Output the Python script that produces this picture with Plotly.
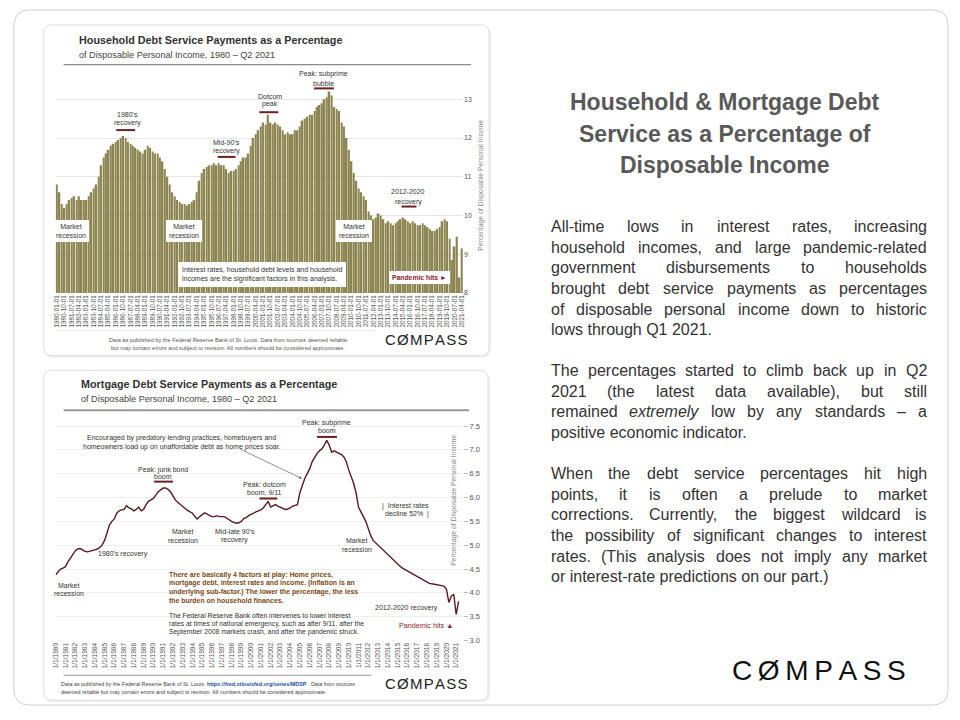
import plotly.graph_objects as go

# ---------------- DATA ----------------
# Household debt service payments, % of disposable personal income (quarterly, 1980Q1 - 2021Q2)
hh_values = [
    10.8, 10.6, 10.3, 10.2,   # 1980
    10.3, 10.4, 10.45, 10.5,  # 1981
    10.4, 10.5, 10.4, 10.4,   # 1982
    10.4, 10.5, 10.6, 10.7,   # 1983
    10.8, 11.0, 11.3, 11.5,   # 1984
    11.6, 11.7, 11.8, 11.85,  # 1985
    11.9, 11.95, 12.0, 12.05, # 1986
    12.0, 11.9, 11.85, 11.8,  # 1987
    11.75, 11.7, 11.65, 11.6, # 1988
    11.7, 11.8, 11.75, 11.65, # 1989
    11.6, 11.6, 11.5, 11.4,   # 1990
    11.2, 11.0, 10.8, 10.6,   # 1991
    10.5, 10.4, 10.35, 10.3,  # 1992
    10.3, 10.25, 10.3, 10.35, # 1993
    10.4, 10.6, 10.9, 11.1,   # 1994
    11.2, 11.25, 11.3, 11.3,  # 1995
    11.35, 11.3, 11.35, 11.3, # 1996
    11.3, 11.2, 11.1, 11.15,  # 1997
    11.15, 11.2, 11.3, 11.4,  # 1998
    11.5, 11.5, 11.6, 11.8,   # 1999
    12.0, 12.1, 12.2, 12.3,   # 2000
    12.4, 12.35, 12.6, 12.4,  # 2001
    12.35, 12.4, 12.35, 12.3, # 2002
    12.2, 12.1, 12.15, 12.1,  # 2003
    12.1, 12.2, 12.2, 12.3,   # 2004
    12.45, 12.5, 12.55, 12.6, # 2005
    12.6, 12.7, 12.8, 12.85,  # 2006
    12.9, 13.0, 13.05, 13.2,  # 2007
    13.1, 12.8, 12.75, 12.7,  # 2008
    12.4, 12.3, 12.0, 11.7,   # 2009
    11.4, 11.1, 10.9, 10.7,   # 2010
    10.6, 10.5, 10.4, 10.1,   # 2011
    10.0, 9.9, 9.95, 10.05,   # 2012
    10.0, 9.9, 9.8, 9.85,     # 2013
    9.8, 9.75, 9.8, 9.85,     # 2014
    9.9, 9.95, 9.9, 9.85,     # 2015
    9.8, 9.85, 9.8, 9.75,     # 2016
    9.75, 9.8, 9.75, 9.7,     # 2017
    9.65, 9.6, 9.6, 9.65,     # 2018
    9.7, 9.85, 9.9, 9.85,     # 2019
    9.4, 8.85, 9.2, 9.45,     # 2020
    8.4, 9.15,                # 2021
]

# Mortgage debt service payments, % of disposable personal income (quarterly, 1980Q1 - 2021Q2)
mort_values = [
    4.38, 4.45, 4.5, 4.52,    # 1980
    4.55, 4.65, 4.72, 4.8,    # 1981
    4.88, 4.92, 4.93, 4.9,    # 1982
    4.87, 4.86, 4.87, 4.88,   # 1983
    4.9, 4.92, 4.95, 5.0,     # 1984
    5.1, 5.25, 5.42, 5.5,     # 1985
    5.55, 5.67, 5.72, 5.74,   # 1986
    5.75, 5.83, 5.78, 5.76,   # 1987
    5.72, 5.75, 5.8, 5.72,    # 1988
    5.75, 5.85, 5.92, 5.95,   # 1989
    5.98, 6.05, 6.12, 6.16,   # 1990
    6.2, 6.2, 6.17, 6.12,     # 1991
    6.02, 5.95, 5.9, 5.85,    # 1992
    5.8, 5.77, 5.73, 5.7,     # 1993
    5.67, 5.6, 5.55, 5.6,     # 1994
    5.65, 5.68, 5.65, 5.62,   # 1995
    5.6, 5.6, 5.62, 5.6,      # 1996
    5.6, 5.6, 5.57, 5.53,     # 1997
    5.5, 5.48, 5.46, 5.47,    # 1998
    5.5, 5.56, 5.58, 5.62,    # 1999
    5.64, 5.67, 5.7, 5.72,    # 2000
    5.74, 5.78, 5.85, 5.92,   # 2001
    5.8, 5.82, 5.85, 5.82,    # 2002
    5.8, 5.78, 5.75, 5.76,    # 2003
    5.78, 5.82, 5.83, 5.85,   # 2004
    6.1, 6.25, 6.4, 6.5,      # 2005
    6.6, 6.75, 6.85, 6.92,    # 2006
    6.98, 7.02, 7.1, 7.2,     # 2007
    7.1, 6.95, 6.98, 6.95,    # 2008
    6.93, 6.9, 6.85, 6.75,    # 2009
    6.58, 6.45, 6.3, 6.1,     # 2010
    5.8, 5.7, 5.6, 5.5,       # 2011
    5.35, 5.2, 5.1, 5.05,     # 2012
    5.02, 4.96, 4.9, 4.85,    # 2013
    4.8, 4.75, 4.7, 4.65,     # 2014
    4.6, 4.56, 4.52, 4.49,    # 2015
    4.47, 4.43, 4.4, 4.37,    # 2016
    4.35, 4.32, 4.28, 4.25,   # 2017
    4.22, 4.2, 4.19, 4.18,    # 2018
    4.17, 4.16, 4.15, 4.14,   # 2019
    4.08, 3.8, 3.93, 3.97,    # 2020
    3.55, 3.82,               # 2021
]

hh_tick_idx = list(range(0, len(hh_values), 3))
hh_tick_text = [f"{1980 + i // 4}-{1 + 3 * (i % 4):02d}-01" for i in hh_tick_idx]
hh_y_ticks = [8, 9, 10, 11, 12, 13]

mort_years = list(range(1980, 2022))
mort_tick_text = [f"1/1/{y}" for y in mort_years]
mort_y_ticks = [3.0, 3.5, 4.0, 4.5, 5.0, 5.5, 6.0, 6.5, 7.0, 7.5]
mort_time = [1980 + i / 4 for i in range(len(mort_values))]

slide_title = ["Household &amp; Mortgage Debt", "Service as a Percentage of", "Disposable Income"]
para1 = [
    ("All-time lows in interest rates, increasing", True),
    ("household incomes, and large pandemic-related", True),
    ("government disbursements to households", True),
    ("brought debt service payments as percentages", True),
    ("of disposable personal income down to historic", True),
    ("lows through Q1 2021.", False),
]
para2 = [
    ("The percentages started to climb back up in Q2", True),
    ("2021 (the latest data available), but still", True),
    ("remained <i>extremely</i> low by any standards – a", True),
    ("positive economic indicator.", False),
]
para3 = [
    ("When the debt service percentages hit high", True),
    ("points, it is often a prelude to market", True),
    ("corrections. Currently, the biggest wildcard is", True),
    ("the possibility of significant changes to interest", True),
    ("rates. (This analysis does not imply any market", True),
    ("or interest-rate predictions on our part.)", False),
]

# ---------------- STYLE ----------------
SANS = "Liberation Sans, Arial, sans-serif"
BAR = "#8c8552"
LINE = "#5c1a1e"
RED = "#6d1f22"
W, H = 960, 720


def px(x):
    return x / W


def py(y):
    return 1 - y / H


ARIAL = {' ': 278, '!': 278, '"': 355, '%': 889, '&': 667, "'": 191, '(': 333, ')': 333, ',': 278,
         '-': 333, '.': 278, '/': 278, ':': 278, ';': 278, '?': 556, '–': 556, '—': 1000,
         'A': 667, 'B': 667, 'C': 722, 'D': 722, 'E': 667, 'F': 611, 'G': 778, 'H': 722, 'I': 278,
         'J': 500, 'K': 667, 'L': 556, 'M': 833, 'N': 722, 'O': 778, 'P': 667, 'Q': 778, 'R': 722,
         'S': 667, 'T': 611, 'U': 722, 'V': 667, 'W': 944, 'X': 667, 'Y': 667, 'Z': 611,
         'a': 556, 'b': 556, 'c': 500, 'd': 556, 'e': 556, 'f': 278, 'g': 556, 'h': 556, 'i': 222,
         'j': 222, 'k': 500, 'l': 222, 'm': 833, 'n': 556, 'o': 556, 'p': 556, 'q': 556, 'r': 333,
         's': 500, 't': 278, 'u': 556, 'v': 500, 'w': 722, 'x': 500, 'y': 500, 'z': 500}


def strip_tags(s):
    out, intag = [], False
    for c in s:
        if c == '<':
            intag = True
        elif c == '>':
            intag = False
        elif not intag:
            out.append(c)
    return ''.join(out)


def tw(s, size):
    s = strip_tags(s)
    return sum(ARIAL.get(c, 556) for c in s) / 1000 * size


fig = go.Figure()

fig.add_trace(go.Bar(x=list(range(len(hh_values))), y=hh_values, marker=dict(color=BAR, line=dict(width=0)),
                     xaxis='x', yaxis='y', showlegend=False, hoverinfo='skip'))
fig.add_trace(go.Scatter(x=mort_time, y=mort_values, mode='lines', line=dict(color=LINE, width=1.4),
                         xaxis='x2', yaxis='y2', showlegend=False, hoverinfo='skip'))

ann = []
shapes = []


def T(x, y, text, size=7, color='#333', anchor='center', family=SANS, bg=None, pad=0, align=None, angle=0):
    d = dict(x=px(x), y=py(y), xref='paper', yref='paper', text=text, showarrow=False,
             xanchor=anchor, yanchor='middle', font=dict(size=size, color=color, family=family),
             borderpad=pad, borderwidth=0, textangle=angle)
    if bg:
        d['bgcolor'] = bg
    d['align'] = align or ('left' if anchor == 'left' else 'right' if anchor == 'right' else 'center')
    ann.append(d)


def hline(x0, x1, y, color, width):
    shapes.append(dict(type='line', xref='paper', yref='paper', x0=px(x0), x1=px(x1), y0=py(y), y1=py(y),
                       line=dict(color=color, width=width)))


def rrect(x0, y0, x1, y1, r, fill, line, lw=1):
    p = (f"M {px(x0 + r)},{py(y0)} L {px(x1 - r)},{py(y0)} Q {px(x1)},{py(y0)} {px(x1)},{py(y0 + r)} "
         f"L {px(x1)},{py(y1 - r)} Q {px(x1)},{py(y1)} {px(x1 - r)},{py(y1)} "
         f"L {px(x0 + r)},{py(y1)} Q {px(x0)},{py(y1)} {px(x0)},{py(y1 - r)} "
         f"L {px(x0)},{py(y0 + r)} Q {px(x0)},{py(y0)} {px(x0 + r)},{py(y0)} Z")
    shapes.append(dict(type='path', xref='paper', yref='paper', path=p, fillcolor=fill,
                       line=dict(color=line, width=lw), layer='below'))


# slide frame & cards
rrect(10, 10, 950, 710, 16, 'white', '#cfcfcf', 1)
rrect(41, 27, 490, 360, 8, '#eeeeee', 'rgba(0,0,0,0)', 0)
rrect(40, 25, 488, 358, 8, 'white', '#e0e0e0', 1)
rrect(41, 375, 489, 707, 8, '#eeeeee', 'rgba(0,0,0,0)', 0)
rrect(40, 373, 487, 705, 8, 'white', '#e0e0e0', 1)

# ---------- top chart texts ----------
T(75, 40, "<b>Household Debt Service Payments as a Percentage</b>", 10.8, '#333', 'left')
T(75, 55, "of Disposable Personal Income, 1980 – Q2 2021", 9.1, '#444', 'left')
hline(60, 470, 65, '#8a8a8a', 1.2)

T(322, 75, "Peak: subprime", 7, '#333')
T(322, 84, "bubble", 7, '#333')
hline(312, 332, 89, RED, 2)
T(268, 97, "Dotcom", 7, '#333')
T(268, 105, "peak", 7, '#333')
hline(257, 276, 113, RED, 2)
T(124, 115, "1980's", 7, '#333')
T(124, 124, "recovery", 7, '#333')
hline(113, 132, 131, RED, 2)
T(224, 143, "Mid-90's", 7, '#333')
T(224, 152, "recovery", 7, '#333')
hline(215, 233, 158, RED, 2)
T(407, 193, "2012-2020", 7, '#333')
T(407, 203, "recovery", 7, '#333')
hline(400, 415, 208, RED, 2)

T(67, 233, "Market<br>recession", 7, '#333', bg='white', pad=3)
T(181, 233, "Market<br>recession", 7, '#333', bg='white', pad=3)
T(352, 233, "Market<br>recession", 7, '#333', bg='white', pad=3)
T(175, 276, "Interest rates, household debt levels and household<br>incomes are the significant factors in this analysis.",
  7, '#333', 'left', bg='white', pad=4)
T(418, 279, "<b>Pandemic hits ►</b>", 6.8, '#8b1c2c', bg='white', pad=3)

T(480, 187, "Percentage of Disposable Personal Income", 6.8, '#888', angle=-90)
hline(53, 373, 333, '#e6e6e6', 1)
T(225, 342, "Data as published by the Federal Reserve Bank of St. Louis. Data from sources deemed reliable", 5.6, '#555')
T(225, 350, "but may contain errors and subject to revision. All numbers should be considered approximate.", 5.6, '#555')
T(425, 342, "C\u200aØ\u200aM\u200aP\u200aA\u200aS\u200aS", 15, '#222')

# ---------- bottom chart texts ----------
T(77, 387, "<b>Mortgage Debt Service Payments as a Percentage</b>", 10.8, '#333', 'left')
T(77, 402, "of Disposable Personal Income, 1980 – Q2 2021", 9.1, '#444', 'left')
hline(60, 468, 413, '#999', 2)

T(179, 441, "Encouraged by predatory lending practices, homebuyers and", 7, '#333')
T(179, 450, "homeowners load up on unaffordable debt as home prices soar.", 7, '#333')
ann.append(dict(x=px(300), y=py(482), xref='paper', yref='paper', ax=237 - 300, ay=452 - 482, axref='pixel',
                ayref='pixel', text='', showarrow=True, arrowhead=2, arrowsize=0.8, arrowwidth=0.8,
                arrowcolor='#777'))
T(325, 426, "Peak: subprime", 7, '#333')
T(325, 434, "boom", 7, '#333')
hline(315, 335, 440, RED, 2)
T(160, 473, "Peak: junk bond", 7, '#333')
T(160, 480, "boom", 7, '#333')
hline(151, 170, 485, RED, 2)
T(262, 488, "Peak: dotcom", 7, '#333')
T(262, 496, "boom, 9/11", 7, '#333')
hline(257, 275, 502, RED, 2)
T(404, 510, "|  Interest rates", 7, '#333')
T(406, 518, "decline 52%  |", 7, '#333')

T(180, 535, "Market", 7, '#333')
T(180, 544, "recession", 7, '#333')
T(232, 535, "Mid-late 90's", 7, '#333')
T(232, 544, "recovery", 7, '#333')
T(355, 544, "Market", 7, '#333')
T(355, 553, "recession", 7, '#333')
T(120, 558, "1980's recovery", 7, '#333')
T(65, 590, "Market", 7, '#333')
T(65, 598, "recession", 7, '#333')

brown = ["There are basically 4 factors at play: Home prices,",
         "mortgage debt, interest rates and income. (Inflation is an",
         "underlying sub-factor.) The lower the percentage, the less",
         "the burden on household finances."]
for i, line in enumerate(brown):
    T(166, 579 + i * 8.4, f"<b>{line}</b>", 6.9, '#7a4a16', 'left')
gray = ["The Federal Reserve Bank often intervenes to lower interest",
        "rates at times of national emergency, such as after 9/11, after the",
        "September 2008 markets crash, and after the pandemic struck."]
for i, line in enumerate(gray):
    T(166, 620 + i * 8.2, line, 6.8, '#333', 'left')

T(405, 612, "2012-2020 recovery", 7, '#333')
T(425, 630, "Pandemic hits ▲", 7.2, '#8b1c2c')
T(453, 504, "Percentage of Disposable Personal Income", 6.8, '#888', angle=-90)

hline(60, 370, 680, '#999', 1)
T(57, 689, "Data as published by the Federal Reserve Bank of St. Louis: "
           "<span style='color:#1f4e9c'><b>https://fred.stlouisfed.org/series/MDSP</b></span> . Data from sources",
  5.4, '#444', 'left')
T(57, 697, "deemed reliable but may contain errors and subject to revision. All numbers should be considered approximate.",
  5.4, '#444', 'left')
T(425, 688, "C\u200aØ\u200aM\u200aP\u200aA\u200aS\u200aS", 15, '#222')

# ---------- right side slide text ----------
for i, line in enumerate(slide_title):
    T(726, 103 + i * 31.5, f"<b>{line}</b>", 23, '#595959')

BODY = 16
X0, X1 = 550, 929


def paragraph(lines, y0, step=20.8):
    for k, (line, just) in enumerate(lines):
        y = y0 + k * step
        if not just:
            T(X0, y, line, BODY, '#333', 'left')
            continue
        words = line.split(' ')
        widths = [tw(w, BODY) for w in words]
        gap = (X1 - X0 - sum(widths)) / (len(words) - 1)
        x = X0
        for j, (w, wd) in enumerate(zip(words, widths)):
            if j == len(words) - 1:
                T(X1, y, w, BODY, '#333', 'right')
            else:
                T(x, y, w, BODY, '#333', 'left')
            x += wd + gap


paragraph(para1, 228)
paragraph(para2, 373)
paragraph(para3, 477)

T(820, 675, "C\u2009Ø\u2009M\u2009P\u2009A\u2009S\u2009S", 28, '#111')

# ---------------- LAYOUT ----------------
fig.update_layout(
    width=W, height=H, margin=dict(l=0, r=0, t=0, b=0),
    paper_bgcolor='white', plot_bgcolor='rgba(0,0,0,0)',
    bargap=0.3, showlegend=False,
    font=dict(family=SANS),
    xaxis=dict(domain=[px(52), px(462)], range=[-0.5, len(hh_values) - 0.5], anchor='y',
               tickmode='array', tickvals=hh_tick_idx, ticktext=hh_tick_text, tickangle=-90,
               tickfont=dict(size=6.3, color='#555'), showgrid=False, zeroline=False, showline=False, ticks=''),
    yaxis=dict(domain=[py(295), py(76.6)], range=[8, 13.6], anchor='x', side='right',
               tickmode='array', tickvals=hh_y_ticks, tickfont=dict(size=7, color='#555'),
               showgrid=True, gridcolor='#e6e6e6', gridwidth=1, zeroline=False, showline=False, ticks=''),
    xaxis2=dict(domain=[px(52), px(462)], range=[1980, 2021.71], anchor='y2',
                tickmode='array', tickvals=mort_years, ticktext=mort_tick_text, tickangle=-90,
                tickfont=dict(size=6.6, color='#555'), showgrid=False, zeroline=False, showline=False, ticks=''),
    yaxis2=dict(domain=[py(645), py(419.4)], range=[3.0, 7.7], anchor='x2', side='right',
                tickmode='array', tickvals=mort_y_ticks, tickformat='.1f', tickfont=dict(size=7.5, color='#555'),
                ticks='outside', ticklen=4, tickcolor='#bbb',
                showgrid=True, gridcolor='#efefef', zeroline=False, showline=False),
    annotations=ann, shapes=shapes,
)

fig.write_html("out.html", config={'displayModeBar': False},
               post_script="document.body.style.margin='0';document.body.style.overflow='hidden';")
